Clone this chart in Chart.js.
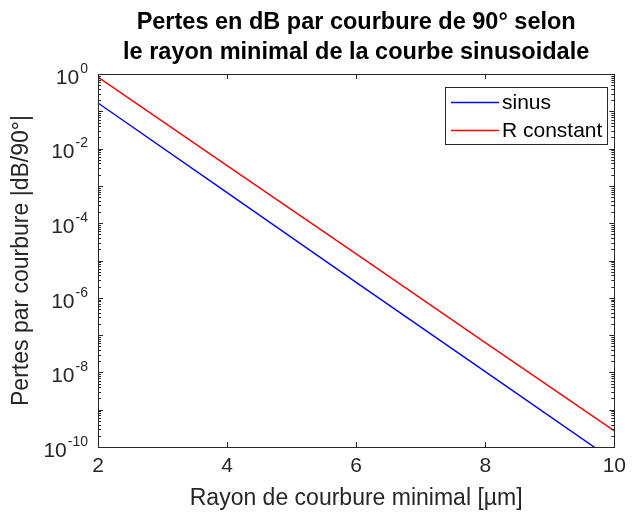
<!DOCTYPE html>
<html>
<head>
<meta charset="utf-8">
<script src="https://cdn.jsdelivr.net/npm/chart.js@4/dist/chart.umd.min.js"></script>
<style>
  html, body { margin: 0; padding: 0; background: #fff; }
  #wrap { width: 633px; height: 513px; }
</style>
</head>
<body>
<div id="wrap"><canvas id="c" width="633" height="513"></canvas></div>
<script>
// rayon minimal [um]
var rayon = [2, 4, 6, 8, 10];
// pertes [dB/90deg]
var pertesSinus = [0.167, 6.6e-4, 2.6e-6, 1.05e-8, 4.2e-11];
var pertesRConst = [0.83, 3.5e-3, 1.5e-5, 6.3e-8, 2.7e-10];
var seriesNames = ['sinus', 'R constant'];
var seriesColors = ['#0000ff', '#ff0000'];
var xTicks = [2, 4, 6, 8, 10];
var yExponents = [0, -2, -4, -6, -8, -10];

var axisColor = '#262626';
var fontFam = '"Liberation Sans", Arial, Helvetica, sans-serif';

function pts(xs, ys) {
    return xs.map(function (x, i) { return { x: x, y: ys[i] }; });
}

// axes box, inward ticks, 10^n labels and legend, MATLAB style
var matlabAxes = {
    id: 'matlabAxes',
    afterDraw: function (chart) {
        var ctx = chart.ctx;
        var a = chart.chartArea;
        var xs = chart.scales.x, ys = chart.scales.y;
        ctx.save();
        ctx.strokeStyle = axisColor;
        ctx.lineWidth = 1;
        ctx.beginPath();
        // x ticks, bottom and top
        xTicks.forEach(function (v) {
            var px = Math.round(xs.getPixelForValue(v)) + 0.5;
            ctx.moveTo(px, a.bottom); ctx.lineTo(px, a.bottom - 5);
            ctx.moveTo(px, a.top); ctx.lineTo(px, a.top + 5);
        });
        // y ticks, major per decade, minor 2..9
        for (var e = -10; e <= 0; e++) {
            for (var m = 1; m <= 9; m++) {
                var v = m * Math.pow(10, e);
                if (v > 1.0000001) break;
                var py = Math.round(ys.getPixelForValue(v)) + 0.5;
                var len = m === 1 ? 5 : 3;
                ctx.moveTo(a.left, py); ctx.lineTo(a.left + len, py);
                ctx.moveTo(a.right, py); ctx.lineTo(a.right - len, py);
            }
        }
        ctx.stroke();
        ctx.strokeRect(Math.round(a.left) + 0.5, Math.round(a.top) + 0.5,
            Math.round(a.right - a.left), Math.round(a.bottom - a.top));

        // y tick labels 10^n
        ctx.fillStyle = axisColor;
        ctx.textBaseline = 'middle';
        yExponents.forEach(function (e) {
            var py = ys.getPixelForValue(Math.pow(10, e));
            var exp = String(e);
            ctx.font = '14px ' + fontFam;
            var we = ctx.measureText(exp).width;
            var right = a.left - 10;
            ctx.textAlign = 'left';
            ctx.fillText(exp, right - we, py - 5);
            ctx.font = '21px ' + fontFam;
            ctx.textAlign = 'right';
            ctx.fillText('10', right - we - 1, py + 4);
        });

        // legend
        var lx = 445, ly = 87, lw = 162, lh = 57;
        ctx.fillStyle = '#fff';
        ctx.fillRect(lx, ly, lw, lh);
        ctx.strokeStyle = axisColor;
        ctx.strokeRect(lx + 0.5, ly + 0.5, lw, lh);
        ctx.font = '21px ' + fontFam;
        ctx.textAlign = 'left';
        seriesNames.forEach(function (name, i) {
            var yy = ly + 15 + i * 28;
            ctx.strokeStyle = seriesColors[i];
            ctx.lineWidth = 1.4;
            ctx.beginPath();
            ctx.moveTo(lx + 6, yy + 0.5); ctx.lineTo(lx + 54, yy + 0.5);
            ctx.stroke();
            ctx.fillStyle = '#000';
            ctx.fillText(name, lx + 57, yy + 1);
        });
        ctx.restore();
    }
};

new Chart(document.getElementById('c'), {
    type: 'line',
    data: {
        datasets: [{
            label: seriesNames[0],
            data: pts(rayon, pertesSinus),
            borderColor: seriesColors[0],
            borderWidth: 1.4,
            pointRadius: 0,
            tension: 0
        }, {
            label: seriesNames[1],
            data: pts(rayon, pertesRConst),
            borderColor: seriesColors[1],
            borderWidth: 1.4,
            pointRadius: 0,
            tension: 0
        }]
    },
    options: {
        responsive: false,
        animation: false,
        events: [],
        layout: { padding: { left: 0, right: 13, top: 0, bottom: 0 } },
        plugins: {
            legend: { display: false },
            tooltip: { enabled: false },
            title: {
                display: true,
                fullSize: false,
                text: ['Pertes en dB par courbure de 90° selon',
                       'le rayon minimal de la courbe sinusoidale'],
                color: '#000',
                font: { family: fontFam, size: 23.5, weight: 'bold', lineHeight: 1.277 },
                padding: { top: 8, bottom: 6 }
            }
        },
        scales: {
            x: {
                type: 'linear',
                min: 2,
                max: 10,
                grid: { display: false, drawTicks: false },
                border: { display: false },
                ticks: {
                    stepSize: 2,
                    color: axisColor,
                    padding: 7,
                    font: { family: fontFam, size: 21 }
                },
                title: {
                    display: true,
                    text: 'Rayon de courbure minimal [µm]',
                    color: axisColor,
                    font: { family: fontFam, size: 23 },
                    padding: { top: 0, bottom: 1 }
                },
                afterFit: function (s) { s.height = 66; }
            },
            y: {
                type: 'logarithmic',
                min: 1e-10,
                max: 1,
                grid: { display: false, drawTicks: false },
                border: { display: false },
                ticks: { display: false },
                title: {
                    display: true,
                    text: 'Pertes par courbure |dB/90°|',
                    color: axisColor,
                    font: { family: fontFam, size: 23 },
                    padding: { top: 8, bottom: 0 }
                },
                afterFit: function (s) { s.width = 98; }
            }
        }
    },
    plugins: [matlabAxes]
});
</script>
</body>
</html>
